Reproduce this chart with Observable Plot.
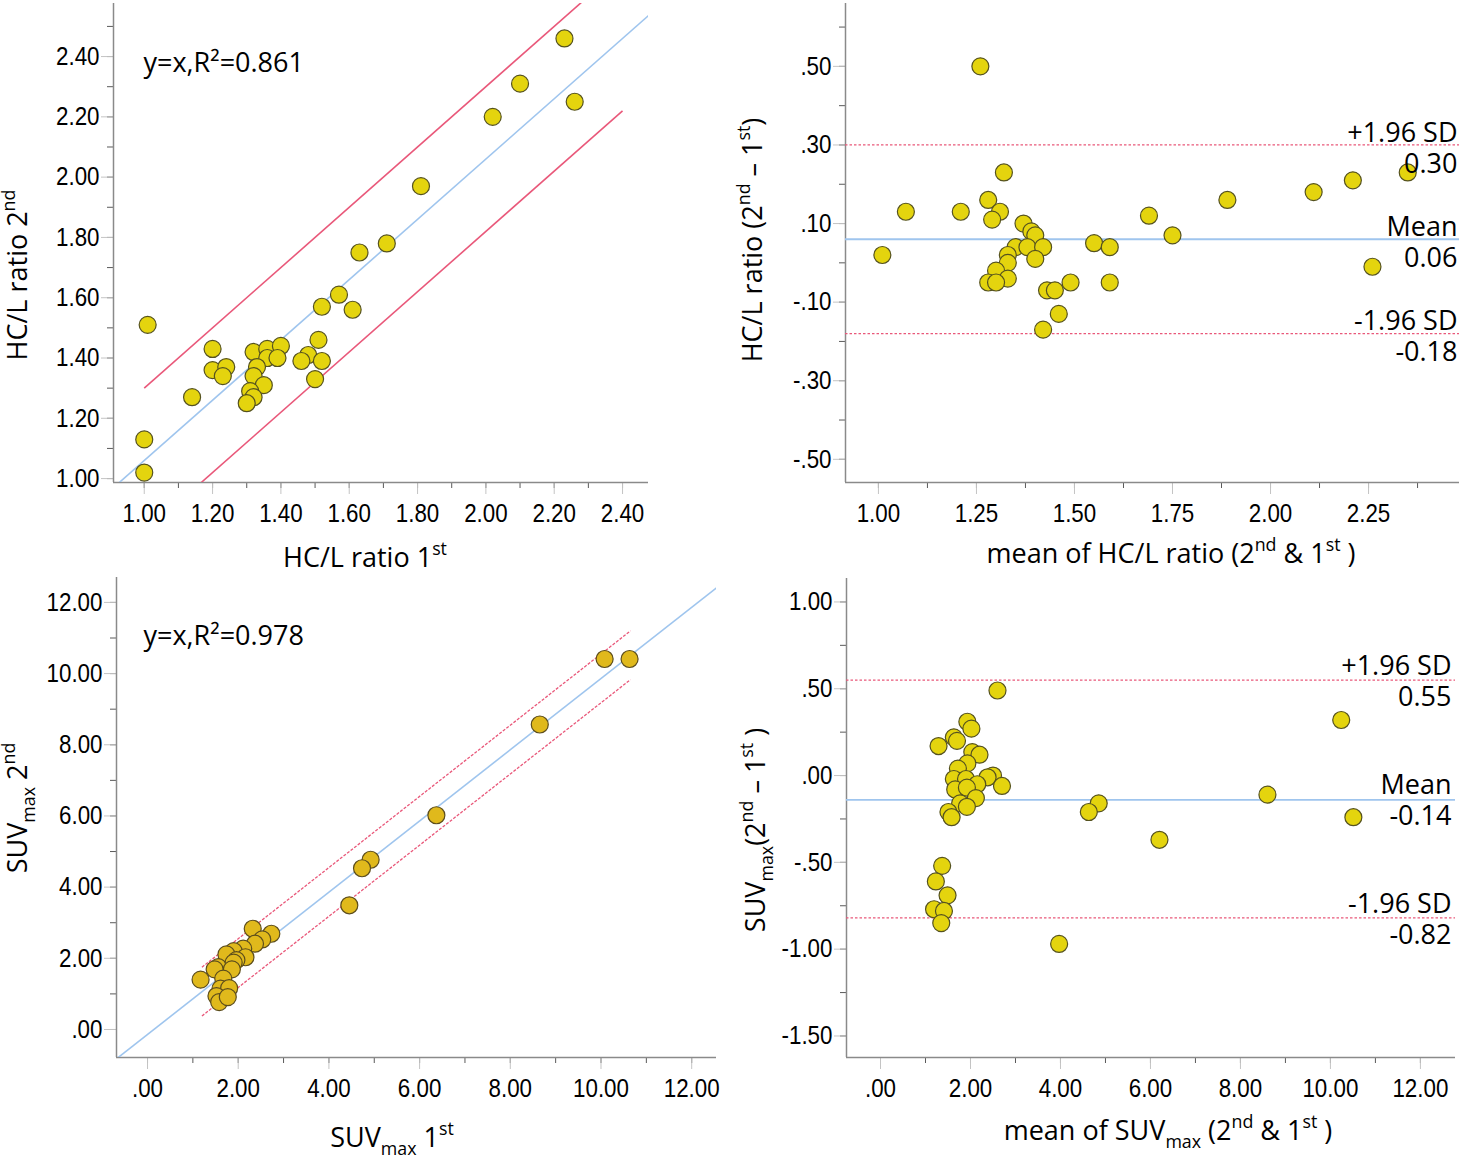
<!DOCTYPE html>
<html><head><meta charset="utf-8">
<script src="https://cdn.jsdelivr.net/npm/d3@7"></script>
<script src="https://cdn.jsdelivr.net/npm/@observablehq/plot@0.6"></script>
<style>
body{margin:0;background:#fff;}
#root{position:relative;width:1459px;height:1159px;overflow:hidden;background:#fff;}
#root svg{position:absolute;}
</style></head><body><div id="root"></div>
<script>
// ---------- data ----------
const hclFirst  = [2.23,2.10,2.26,2.02,1.81,1.71,1.63,1.57,1.52,1.61,1.01,1.51,1.20,1.32,1.36,1.40,1.36,1.39,1.48,1.46,1.52,1.20,1.24,1.23,1.33,1.32,1.35,1.50,1.14,1.31,1.32,1.30,1.00,1.00];
const hclSecond = [2.46,2.31,2.25,2.20,1.97,1.78,1.75,1.61,1.57,1.56,1.51,1.46,1.43,1.42,1.43,1.44,1.40,1.40,1.41,1.39,1.39,1.36,1.37,1.34,1.37,1.34,1.31,1.33,1.27,1.29,1.27,1.25,1.13,1.02];

const hclMean = [1.26,1.32,2.35,2.21,2.11,1.89,1.28,1.07,1.21,1.31,1.29,1.69,1.37,1.39,1.40,1.75,1.35,1.38,1.42,1.55,1.59,1.01,1.33,1.40,1.33,1.30,1.33,1.28,1.30,1.49,1.59,2.26,1.43,1.45,1.46,1.42];
const hclDiff = [0.50,0.23,0.23,0.21,0.18,0.16,0.16,0.13,0.13,0.13,0.11,0.12,0.10,0.08,0.07,0.07,0.04,0.04,0.04,0.05,0.04,0.02,0.02,0.01,0.00,-0.02,-0.04,-0.05,-0.05,-0.05,-0.05,-0.01,-0.07,-0.07,-0.13,-0.17];

const suvFirst  = [10.08,10.63,8.65,6.37,4.92,4.73,4.45,2.32,2.73,2.53,2.37,2.11,1.90,1.74,2.16,1.96,1.56,1.90,1.86,1.48,1.17,1.67,1.61,1.80,1.52,1.58,1.77];
const suvSecond = [10.41,10.41,8.57,6.02,4.77,4.53,3.49,2.83,2.69,2.53,2.41,2.27,2.20,2.11,2.03,1.95,1.75,1.88,1.69,1.69,1.40,1.43,1.15,1.16,0.94,0.77,0.91];

const suvMean = [2.60,10.24,1.93,2.02,1.63,1.70,1.29,2.04,2.20,1.93,1.72,2.50,2.38,1.63,1.90,2.70,2.15,1.66,1.92,2.12,1.77,1.92,8.60,4.85,4.63,10.51,1.51,1.58,6.20,1.37,1.23,1.49,1.19,1.41,1.35,3.97];
const suvDiff = [0.49,0.32,0.31,0.27,0.22,0.20,0.17,0.135,0.12,0.07,0.04,0.00,-0.01,-0.02,-0.02,-0.06,-0.05,-0.08,-0.07,-0.13,-0.16,-0.18,-0.11,-0.16,-0.21,-0.24,-0.21,-0.24,-0.37,-0.52,-0.61,-0.69,-0.77,-0.78,-0.85,-0.97];

// agreement statistics (mean difference, ±1.96 SD)
const hclStats = [{name:"+1.96 SD", value:0.30, label:"0.30"},{name:"Mean", value:0.06, label:"0.06"},{name:"-1.96 SD", value:-0.18, label:"-0.18"}];
const suvStats = [{name:"+1.96 SD", value:0.55, label:"0.55"},{name:"Mean", value:-0.14, label:"-0.14"},{name:"-1.96 SD", value:-0.82, label:"-0.82"}];

const hclR2 = ["y=x,R²=0.861"];
const suvR2 = ["y=x,R²=0.978"];

// tick labels
const hclXTicks = [1.00,1.20,1.40,1.60,1.80,2.00,2.20,2.40];
const hclYTicks = [1.00,1.20,1.40,1.60,1.80,2.00,2.20,2.40];
const hclBaXTicks = [1.00,1.25,1.50,1.75,2.00,2.25];
const hclBaYTicks = [-0.50,-0.30,-0.10,0.10,0.30,0.50];
const suvXTicks = [0,2,4,6,8,10,12];
const suvYTicks = [0,2,4,6,8,10,12];
const suvBaXTicks = [0,2,4,6,8,10,12];
const suvBaYTicks = [-1.50,-1.00,-0.50,0.00,0.50,1.00];

// ---------- style ----------
const TICK_FONT = "'Liberation Sans',Arial,sans-serif";
const TITLE_FONT = "'Open Sans','Noto Sans',sans-serif";
const YELLOW = "#e4d40e", YELLOW_STROKE = "#55521f";
const GOLD = "#e0b91c", GOLD_STROKE = "#5c4d1c";
const BLUE = "#9fc5ee", RED = "#e9587a";
const AXIS = "#8a8a8a", MAJOR = "#c4c4c4", MINOR = "#5a5a5a";
const isMean = d => d.name === "Mean";
const notMean = d => d.name !== "Mean";

const fmt = v => d3.format(".2f")(v).replace("−", "-").replace(/^(-?)0\./, "$1.");

function axes(xMajor, xMinor, yMajor, yMinor, xd, yd) {
  return [
    Plot.axisX(xMinor, {tickSize: 6, tickFormat: () => "", stroke: MINOR, label: null}),
    Plot.axisY(yMinor, {tickSize: 6, tickFormat: () => "", stroke: MINOR, label: null}),
    Plot.axisX(xMajor, {tickSize: 12, tickPadding: 9, tickFormat: fmt, stroke: MAJOR, fill: "black", fontSize: 26, fontFamily: TICK_FONT, label: null}),
    Plot.axisY(yMajor, {tickSize: 12, tickPadding: 2, tickFormat: fmt, stroke: MAJOR, fill: "black", fontSize: 26, fontFamily: TICK_FONT, label: null}),
    Plot.ruleX([xd[0]], {stroke: AXIS, strokeWidth: 1.5}),
    Plot.ruleY([yd[0]], {stroke: AXIS, strokeWidth: 1.5})
  ];
}

const root = document.getElementById("root");
const placed = [];
function place(svg, left, top) { svg.style.left = left + "px"; svg.style.top = top + "px"; root.appendChild(svg); placed.push(svg); }

const range = (a, b, s) => d3.range(0, Math.round((b - a) / s) + 1).map(i => +(a + i * s).toFixed(4));

// ---------- panel 1 ----------
{
  const xd = [0.91, 2.476], yd = [0.987, 2.576];
  const pts = hclFirst.map((x, i) => ({x, y: hclSecond[i]}));
  const lines = hclStats.map(s => ({x1: isMean(s) ? 0.8 : 1.0, x2: isMean(s) ? 2.6 : 2.4, off: s.value, name: s.name}));
  const p = Plot.plot({
    width: 660, height: 545, marginLeft: 113, marginRight: 12, marginTop: 3, marginBottom: 63,
    x: {domain: xd}, y: {domain: yd},
    style: {background: "transparent", overflow: "visible", color: "black"},
    marks: [
      ...axes(hclXTicks, range(1.0, 2.4, 0.1), hclYTicks, range(1.0, 2.5, 0.1), xd, yd),
      Plot.link(lines.filter(isMean), {x1: "x1", x2: "x2", y1: d => d.x1 + d.off, y2: d => d.x2 + d.off, stroke: BLUE, strokeWidth: 1.6, clip: true}),
      Plot.link(lines.filter(notMean), {x1: "x1", x2: "x2", y1: d => d.x1 + d.off, y2: d => d.x2 + d.off, stroke: RED, strokeWidth: 1.6, clip: true}),
      Plot.dot(pts, {x: "x", y: "y", r: 8.5, fill: YELLOW, stroke: YELLOW_STROKE, strokeWidth: 1.2}),
      Plot.text(hclR2, {text: d => d, frameAnchor: "top-left", dx: 30, dy: 60, textAnchor: "start", lineAnchor: "middle", fontSize: 27, fontFamily: TITLE_FONT, fill: "black"})
    ]
  });
  place(p, 0, 0);
}

// ---------- panel 2 ----------
{
  const xd = [0.916, 2.482], yd = [-0.559, 0.66];
  const pts = hclMean.map((x, i) => ({x, y: hclDiff[i]}));
  const p = Plot.plot({
    width: 729, height: 545, marginLeft: 115, marginRight: 0, marginTop: 3, marginBottom: 63,
    x: {domain: xd}, y: {domain: yd},
    style: {background: "transparent", overflow: "visible", color: "black"},
    marks: [
      ...axes(hclBaXTicks, range(1.0, 2.375, 0.125), hclBaYTicks, range(-0.5, 0.6, 0.1), xd, yd),
      Plot.ruleY(hclStats.filter(isMean), {y: "value", stroke: BLUE, strokeWidth: 1.8}),
      Plot.ruleY(hclStats.filter(notMean), {y: "value", stroke: RED, strokeWidth: 1.3, strokeDasharray: "2.5,2"}),
      Plot.dot(pts, {x: "x", y: "y", r: 8.5, fill: YELLOW, stroke: YELLOW_STROKE, strokeWidth: 1.2}),
      Plot.text(hclStats, {y: "value", text: "name", frameAnchor: "right", textAnchor: "end", dx: -2, dy: -12, fontSize: 27, fontFamily: TITLE_FONT, fill: "black"}),
      Plot.text(hclStats, {y: "value", text: "label", frameAnchor: "right", textAnchor: "end", dx: -2, dy: 19, fontSize: 27, fontFamily: TITLE_FONT, fill: "black"})
    ]
  });
  place(p, 730, 0);
}

// ---------- panel 3 ----------
{
  const xd = [-0.684, 12.547], yd = [-0.787, 12.70];
  const pts = suvFirst.map((x, i) => ({x, y: suvSecond[i]}));
  const lines = suvStats.map(s => ({x1: isMean(s) ? -2 : 1.2, x2: isMean(s) ? 14 : 10.65, off: s.value, name: s.name}));
  const p = Plot.plot({
    width: 730, height: 599, marginLeft: 116, marginRight: 14, marginTop: 17, marginBottom: 102,
    x: {domain: xd}, y: {domain: yd},
    style: {background: "transparent", overflow: "visible", color: "black"},
    marks: [
      ...axes(suvXTicks, range(0, 12, 1), suvYTicks, range(0, 12, 1), xd, yd),
      Plot.link(lines.filter(isMean), {x1: "x1", x2: "x2", y1: d => d.x1 + d.off, y2: d => d.x2 + d.off, stroke: BLUE, strokeWidth: 1.6, clip: true}),
      Plot.link(lines.filter(notMean), {x1: "x1", x2: "x2", y1: d => d.x1 + d.off, y2: d => d.x2 + d.off, stroke: RED, strokeWidth: 1.3, strokeDasharray: "3,1.5", clip: true}),
      Plot.dot(pts, {x: "x", y: "y", r: 8.5, fill: GOLD, stroke: GOLD_STROKE, strokeWidth: 1.2}),
      Plot.text(suvR2, {text: d => d, frameAnchor: "top-left", dx: 27, dy: 59, textAnchor: "start", lineAnchor: "middle", fontSize: 27, fontFamily: TITLE_FONT, fill: "black"})
    ]
  });
  place(p, 0, 560);
}

// ---------- panel 4 ----------
{
  const xd = [-0.756, 12.78], yd = [-1.624, 1.135];
  const pts = suvMean.map((x, i) => ({x, y: suvDiff[i]}));
  const p = Plot.plot({
    width: 729, height: 599, marginLeft: 116, marginRight: 4, marginTop: 18, marginBottom: 102,
    x: {domain: xd}, y: {domain: yd},
    style: {background: "transparent", overflow: "visible", color: "black"},
    marks: [
      ...axes(suvBaXTicks, range(0, 12, 1), suvBaYTicks, range(-1.5, 1.0, 0.25), xd, yd),
      Plot.ruleY(suvStats.filter(isMean), {y: "value", stroke: BLUE, strokeWidth: 1.8}),
      Plot.ruleY(suvStats.filter(notMean), {y: "value", stroke: RED, strokeWidth: 1.3, strokeDasharray: "2.5,2"}),
      Plot.dot(pts, {x: "x", y: "y", r: 8.5, fill: YELLOW, stroke: YELLOW_STROKE, strokeWidth: 1.2}),
      Plot.text(suvStats, {y: "value", text: "name", frameAnchor: "right", textAnchor: "end", dx: -4, dy: -14, fontSize: 27, fontFamily: TITLE_FONT, fill: "black"}),
      Plot.text(suvStats, {y: "value", text: "label", frameAnchor: "right", textAnchor: "end", dx: -4, dy: 17, fontSize: 27, fontFamily: TITLE_FONT, fill: "black"})
    ]
  });
  place(p, 730, 560);
}

// condense numeric tick labels (narrow-face look) without moving their anchors
for (const svg of placed) {
  svg.querySelectorAll('g[aria-label$="tick label"] text').forEach(t => {
    const w = t.getComputedTextLength();
    if (w > 0) { t.setAttribute("textLength", (w * 0.86).toFixed(1)); t.setAttribute("lengthAdjust", "spacingAndGlyphs"); }
  });
}

// ---------- axis titles with super/subscripts ----------
const titles = [
  {x: 365, y: 557, rot: false, parts: [["HC/L ratio 1"], ["st", "sup"]]},
  {x: 17, y: 275, rot: true, parts: [["HC/L ratio 2"], ["nd", "sup"]]},
  {x: 1171, y: 553, rot: false, parts: [["mean of HC/L ratio (2"], ["nd", "sup"], [" & 1"], ["st", "sup"], [" )"]]},
  {x: 752, y: 240, rot: true, parts: [["HC/L ratio (2"], ["nd", "sup"], [" – 1"], ["st", "sup"], [")"]]},
  {x: 392, y: 1137, rot: false, parts: [["SUV"], ["max", "sub"], [" 1"], ["st", "sup"]]},
  {x: 17, y: 808, rot: true, parts: [["SUV"], ["max", "sub"], [" 2"], ["nd", "sup"]]},
  {x: 1168, y: 1130, rot: false, parts: [["mean of SUV"], ["max", "sub"], [" (2"], ["nd", "sup"], [" & 1"], ["st", "sup"], [" )"]]},
  {x: 755, y: 830, rot: true, parts: [["SUV"], ["max", "sub"], ["(2"], ["nd", "sup"], [" – 1"], ["st", "sup"], [" )"]]}
];
const overlay = d3.create("svg").attr("width", 1459).attr("height", 1159).style("left", "0px").style("top", "0px");
const SIZE = 27;
for (const t of titles) {
  const bx = t.rot ? t.x + 0.36 * SIZE : t.x, by = t.rot ? t.y : t.y + 0.36 * SIZE;
  const el = overlay.append("text").attr("font-family", TITLE_FONT).attr("font-size", SIZE)
    .attr("text-anchor", "middle").attr("fill", "black")
    .attr("transform", t.rot ? `translate(${bx},${by}) rotate(-90)` : `translate(${bx},${by})`);
  let shift = 0;
  for (const [s, kind] of t.parts) {
    const target = kind === "sup" ? -0.42 * SIZE : kind === "sub" ? 0.3 * SIZE : 0;
    el.append("tspan").attr("dy", target - shift).attr("font-size", kind ? SIZE * 0.66 : SIZE).text(s);
    shift = target;
  }
}
root.appendChild(overlay.node());
</script>
</body></html>
